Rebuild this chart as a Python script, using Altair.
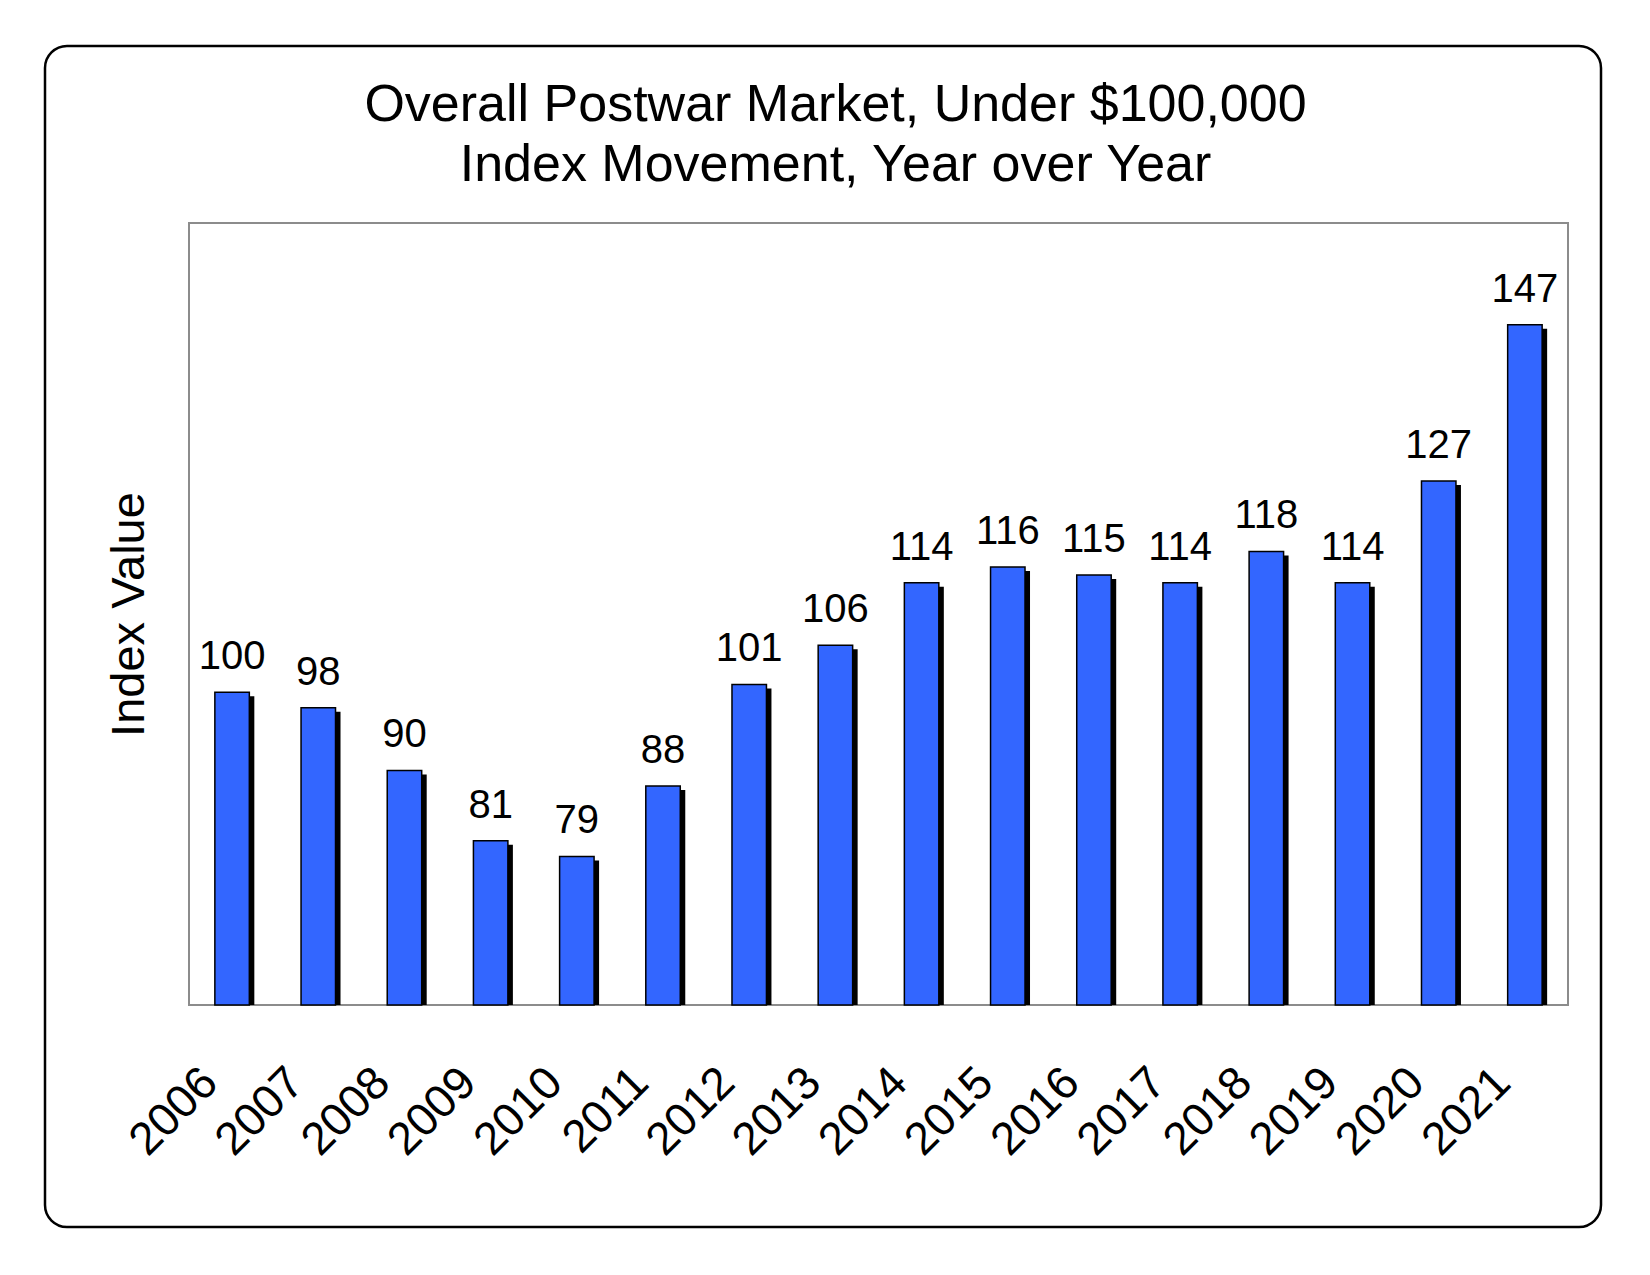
import altair as alt
import pandas as pd

# Index values
years = ["2006", "2007", "2008", "2009", "2010", "2011", "2012", "2013",
         "2014", "2015", "2016", "2017", "2018", "2019", "2020", "2021"]
index_values = [100, 98, 90, 81, 79, 88, 101, 106, 114, 116, 115, 114, 118, 114, 127, 147]

title_lines = ["Overall Postwar Market, Under $100,000", "Index Movement, Year over Year"]
y_title = "Index Value"

FONT = "Liberation Sans"
BAR_BLUE = "#3366ff"

df = pd.DataFrame({"year": years, "value": index_values})

x_enc = alt.X(
    "year:N",
    sort=years,
    title=None,
    scale=alt.Scale(paddingInner=0.6, paddingOuter=0.3),
    axis=alt.Axis(labelAngle=-45, labelAlign="right", labelBaseline="middle",
                  labelPadding=70, labelOffset=-22, labelFontSize=46, labelFont=FONT,
                  labelColor="black", ticks=False, tickSize=0, domain=False),
)
y_enc = alt.Y(
    "value:Q",
    scale=alt.Scale(domain=[60, 160], zero=False, nice=False),
    axis=alt.Axis(title=y_title, labels=False, ticks=False, tickSize=0,
                  grid=False, domain=False, titleFontSize=47, titleFont=FONT,
                  titleFontWeight="normal", titleColor="black", titlePadding=36),
)

base = alt.Chart(df)

# drop shadow behind each bar
shadow = base.mark_bar(color="black", xOffset=5, yOffset=4, clip=True).encode(
    x=x_enc, y=y_enc, y2=alt.datum(60)
)

bars = base.mark_bar(color=BAR_BLUE, stroke="black", strokeWidth=1.5).encode(
    x=x_enc, y=y_enc, y2=alt.datum(60)
)

labels = base.mark_text(dy=-23, fontSize=40, font=FONT, color="black",
                        baseline="alphabetic").encode(
    x=x_enc, y=y_enc, text="value:Q"
)

# rounded outer frame around the whole figure
frame = alt.Chart(pd.DataFrame({"f": [0]})).mark_rect(
    fill=None, fillOpacity=0, stroke="black", strokeWidth=2.5, cornerRadius=22
).encode(
    x=alt.value(-144), x2=alt.value(1412), y=alt.value(-177), y2=alt.value(1004)
)

chart = alt.layer(frame, shadow, bars, labels).properties(
    width=1379,
    height=782,
    background="white",
    title=alt.TitleParams(title_lines, fontSize=52, font=FONT, fontWeight="normal",
                          color="black", anchor="middle", frame="group",
                          baseline="bottom", lineHeight=60, offset=0, dy=199, dx=-43),
    autosize=alt.AutoSizeParams(type="none"),
    padding={"left": 181, "top": 215, "right": 60, "bottom": 240},
).configure_view(
    stroke="#8c8c8c", strokeWidth=2
)

chart.save("out.html", embed_options={"renderer": "svg", "actions": False})
